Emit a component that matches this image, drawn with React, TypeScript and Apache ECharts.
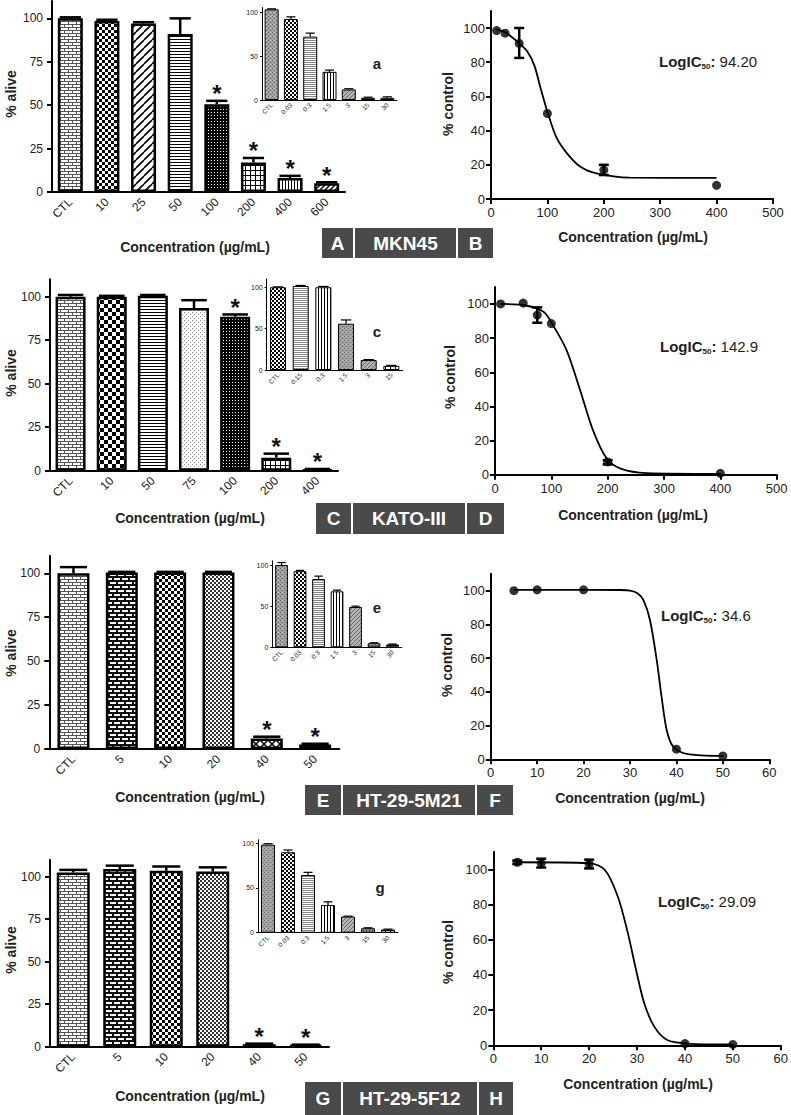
import React, { useEffect, useRef } from "react";
import * as echarts from "echarts";

// ================= DATA =================
// Panel A – MKN45 bar chart
const aCats = ["CTL", "10", "25", "50", "100", "200", "400", "600"];
const aVals = [100, 98.5, 97, 91, 50.5, 17, 8, 5];
const aErr = [100.6, 99.2, 97.8, 100, 52.5, 19.6, 9.3, 5.6];
const aSig = [0, 0, 0, 0, 1, 1, 1, 1];
const aPat = ["brick", "checker", "diagWide", "hlines", "denseDark", "grid", "vlines", "diag"];
// inset a
const aInCats = ["CTL", "0.03", "0.3", "1.5", "3", "15", "30"];
const aInVals = [103, 92, 72, 32, 12, 2.5, 2.5];
const aInErr = [103.6, 94.5, 76, 34, 12.8, 3.2, 3.6];
const aInPat = ["grayCross", "checkerSmall", "grayH", "vlines", "grayDiag", "grayGrid", "grid"];
// Panel B – MKN45 dose response
const bX = [10, 25, 50, 100, 200, 400];
const bY = [98.5, 97, 91, 50, 17, 8];
const bLo = [98.5, 97, 82.5, 50, 14, 8];
const bHi = [98.5, 97, 100, 50, 20, 8];
const bCurveX = [10, 25, 50, 65, 77, 87, 101, 116, 134, 158, 187, 246, 400];
const bCurveY = [99, 97.5, 91, 86, 78, 66, 50, 36, 27, 19, 15, 12.5, 12.3];

// Panel C – KATO-III bar chart
const cCats = ["CTL", "10", "50", "75", "100", "200", "400"];
const cVals = [100, 100, 100.5, 93.5, 88.5, 7.5, 0.5];
const cErr = [101, 100.5, 101, 98, 89.8, 9.8, 1];
const cSig = [0, 0, 0, 0, 1, 1, 1];
const cPat = ["brick", "checkerBig", "hlines", "dots", "denseDark", "grid", "grid"];
// inset c
const cInCats = ["CTL", "0.15", "0.3", "1.5", "3", "15"];
const cInVals = [100, 101.5, 100, 56, 12, 5];
const cInErr = [100.5, 102.2, 101, 60.5, 12.6, 5.6];
const cInPat = ["checkerSmall", "grayH", "vlines", "grayCross", "grayDiag", "grid"];
// Panel D – KATO-III dose response
const dX = [10, 50, 75, 100, 200, 400];
const dY = [100, 100.5, 93.5, 88.5, 7.5, 0.8];
const dLo = [100, 100.5, 89, 88.5, 6, 0.8];
const dHi = [100, 100.5, 98, 88.5, 8.5, 0.8];
const dCurveX = [10, 50, 86, 101, 127, 151, 174, 198, 222, 269, 400];
const dCurveY = [100, 99.4, 95.5, 88.7, 73, 49.6, 26, 9.6, 3.7, 0.9, 0.5];

// Panel E – HT-29-5M21 bar chart
const eCats = ["CTL", "5", "10", "20", "40", "50"];
const eVals = [100, 100.5, 100.5, 100.5, 6, 2.5];
const eErr = [103.5, 100.8, 100.8, 100.8, 7, 3];
const eSig = [0, 0, 0, 0, 1, 1];
const ePat = ["brick", "brickDark", "checker", "checkerFine", "cross", "hlines"];
// inset e
const eInCats = ["CTL", "0.03", "0.3", "1.5", "3", "15", "30"];
const eInVals = [100, 92.5, 83, 68, 49, 5, 3.5];
const eInErr = [103, 93.5, 86.5, 69.5, 50, 5.5, 4];
const eInPat = ["grayCross", "checkerSmall", "grayH", "vlines", "grayDiag", "grayGrid", "grid"];
// Panel F – HT-29-5M21 dose response
const fX = [5, 10, 20, 40, 50];
const fY = [100, 100.5, 100.5, 6, 2];
const fLo = [100, 100.5, 100.5, 6, 2];
const fHi = [100, 100.5, 100.5, 6, 2];
const fCurveX = [5, 20, 28, 30, 31.6, 32.9, 34.3, 35.75, 36.8, 37.9, 39.3, 42.2, 50];
const fCurveY = [100.5, 100.5, 100.4, 100, 98.5, 94.4, 82.6, 58.9, 37, 17.4, 7.5, 3.2, 2];

// Panel G – HT-29-5F12 bar chart
const gCats = ["CTL", "5", "10", "20", "40", "50"];
const gVals = [102.5, 104.5, 103.5, 103, 1.5, 1];
const gErr = [104, 106.5, 106, 105.5, 1.8, 1.2];
const gSig = [0, 0, 0, 0, 1, 1];
const gPat = ["brick", "brickDark", "checker", "checkerFine", "denseDark", "denseDark"];
// inset g
const gInCats = ["CTL", "0.03", "0.3", "1.5", "3", "15", "30"];
const gInVals = [98.5, 90, 64.5, 31, 18, 5, 3.5];
const gInErr = [99.5, 92.5, 67.5, 34.5, 18.5, 5.5, 4];
const gInPat = ["grayCross", "checkerSmall", "grayH", "vlines", "grayDiag", "grayGrid", "grid"];
// Panel H – HT-29-5F12 dose response
const hX = [5, 10, 20, 40, 50];
const hY = [104, 103.5, 103, 1, 0.5];
const hLo = [103, 101, 100.5, 1, 0.5];
const hHi = [105, 106, 105.5, 1, 0.5];
const hCurveX = [5, 20, 23.3, 26, 28.1, 29.8, 31.5, 33.6, 36.3, 40.5, 50];
const hCurveY = [104, 103.5, 99.6, 84.4, 63.6, 42.8, 23.9, 10.6, 3, 1, 0.5];

const barTicks = [0, 25, 50, 75, 100];
const insetTicks = [0, 50, 100];
const curveTicks = [0, 20, 40, 60, 80, 100];

// ================= LAYOUT =================
const FONT = '"Liberation Sans", Arial, Helvetica, sans-serif';
const TXT = "#222";

const LA = { left: 52, top: 1, width: 293, height: 191, max: 110, barW: 25 };
const LAi = { left: 262, top: 7.6, width: 135, height: 92.4, max: 105, barW: 14 };
const LB = { left: 491, top: 10.9, width: 282, height: 188.1, xmax: 500, xint: 100 };
const LC = { left: 50, top: 279.3, width: 288, height: 191.4, max: 110, barW: 30 };
const LCi = { left: 266.7, top: 279, width: 136, height: 91, max: 110, barW: 16 };
const LD = { left: 495, top: 286.9, width: 281.7, height: 187.8, xmax: 500, xint: 100 };
const LE = { left: 49.3, top: 555.7, width: 290, height: 193.3, max: 110, barW: 32 };
const LEi = { left: 272.3, top: 560.9, width: 129.5, height: 86.4, max: 105, barW: 12.7 };
const LF = { left: 490.7, top: 573.8, width: 278.6, height: 185.5, xmax: 60, xint: 10 };
const LG = { left: 50, top: 859.7, width: 279, height: 187, max: 110, barW: 33 };
const LGi = { left: 258, top: 839.7, width: 140, height: 93, max: 104, barW: 14 };
const LH = { left: 493.3, top: 851.7, width: 291.7, height: 193.6, xmax: 60, xint: 10 };

function buildPatterns() {
  const mk = (w, h, bg, draw) => {
    const c = document.createElement("canvas");
    c.width = w;
    c.height = h;
    const g = c.getContext("2d");
    g.fillStyle = bg;
    g.fillRect(0, 0, w, h);
    draw(g);
    return { image: c, repeat: "repeat", imageWidth: w, imageHeight: h };
  };
  const diag = (g, s, color, lw, dir) => {
    g.strokeStyle = color;
    g.lineWidth = lw;
    for (const o of [-s, 0, s]) {
      g.beginPath();
      if (dir > 0) {
        g.moveTo(o, s);
        g.lineTo(o + s, 0);
      } else {
        g.moveTo(o, 0);
        g.lineTo(o + s, s);
      }
      g.stroke();
    }
  };
  return {
    brick: mk(8, 6, "#fff", (g) => {
      g.fillStyle = "#555";
      g.fillRect(0, 0, 8, 1);
      g.fillRect(0, 3, 8, 1);
      g.fillRect(0, 0, 1, 3);
      g.fillRect(4, 3, 1, 3);
    }),
    brickDark: mk(8, 8, "#fff", (g) => {
      g.fillStyle = "#111";
      g.fillRect(0, 0, 8, 2);
      g.fillRect(0, 4, 8, 2);
      g.fillRect(0, 0, 2, 4);
      g.fillRect(4, 4, 2, 4);
    }),
    checker: mk(6, 6, "#fff", (g) => {
      g.fillStyle = "#000";
      g.fillRect(0, 0, 3, 3);
      g.fillRect(3, 3, 3, 3);
    }),
    checkerBig: mk(8, 8, "#fff", (g) => {
      g.fillStyle = "#000";
      g.fillRect(0, 0, 4, 4);
      g.fillRect(4, 4, 4, 4);
    }),
    checkerFine: mk(4, 4, "#fff", (g) => {
      g.fillStyle = "#333";
      g.fillRect(0, 0, 2, 2);
      g.fillRect(2, 2, 2, 2);
    }),
    checkerSmall: mk(4, 4, "#fff", (g) => {
      g.fillStyle = "#000";
      g.fillRect(0, 0, 2, 2);
      g.fillRect(2, 2, 2, 2);
    }),
    diagWide: mk(8, 8, "#fff", (g) => diag(g, 8, "#000", 1.6, 1)),
    diag: mk(5, 5, "#fff", (g) => diag(g, 5, "#000", 1.3, 1)),
    hlines: mk(2, 3, "#fff", (g) => {
      g.fillStyle = "#000";
      g.fillRect(0, 0, 2, 1);
    }),
    vlines: mk(3, 2, "#fff", (g) => {
      g.fillStyle = "#000";
      g.fillRect(0, 0, 1, 2);
    }),
    grid: mk(5, 5, "#fff", (g) => {
      g.fillStyle = "#000";
      g.fillRect(0, 0, 5, 1);
      g.fillRect(0, 0, 1, 5);
    }),
    denseDark: mk(3, 3, "#000", (g) => {
      g.fillStyle = "#fff";
      g.fillRect(1, 1, 1, 1);
    }),
    dots: mk(4, 4, "#fff", (g) => {
      g.fillStyle = "#888";
      g.fillRect(0, 0, 1, 1);
      g.fillRect(2, 2, 1, 1);
    }),
    cross: mk(8, 8, "#fff", (g) => {
      diag(g, 8, "#000", 1.5, 1);
      diag(g, 8, "#000", 1.5, -1);
    }),
    grayCross: mk(4, 4, "#a0a0a0", (g) => {
      g.fillStyle = "#666";
      g.fillRect(0, 0, 1, 1);
      g.fillRect(2, 2, 1, 1);
      g.fillStyle = "#ccc";
      g.fillRect(2, 0, 1, 1);
    }),
    grayDiag: mk(4, 4, "#b4b4b4", (g) => diag(g, 4, "#6a6a6a", 1, 1)),
    grayH: mk(2, 2, "#fff", (g) => {
      g.fillStyle = "#888";
      g.fillRect(0, 0, 2, 1);
    }),
    grayGrid: mk(3, 3, "#bbb", (g) => {
      g.fillStyle = "#666";
      g.fillRect(0, 0, 3, 1);
      g.fillRect(0, 0, 1, 3);
    }),
  };
}

function errItem(capW, lw, both) {
  return function (params, api) {
    const x = api.value(0);
    const lo = api.value(1);
    const hi = api.value(2);
    const p1 = api.coord([x, lo]);
    const p2 = api.coord([x, hi]);
    const st = { stroke: "#000", lineWidth: lw, fill: "none" };
    const ch = [
      { type: "line", shape: { x1: p1[0], y1: p1[1], x2: p2[0], y2: p2[1] }, style: st },
      { type: "line", shape: { x1: p2[0] - capW / 2, y1: p2[1], x2: p2[0] + capW / 2, y2: p2[1] }, style: st },
    ];
    if (both) {
      ch.push({ type: "line", shape: { x1: p1[0] - capW / 2, y1: p1[1], x2: p1[0] + capW / 2, y2: p1[1] }, style: st });
    }
    return { type: "group", children: ch };
  };
}

function starItem(params, api) {
  const p = api.coord([api.value(0), api.value(1)]);
  return {
    type: "text",
    x: p[0],
    y: p[1] + 5,
    style: {
      text: "*",
      fontSize: 24,
      fontWeight: "bold",
      fontFamily: FONT,
      fill: "#111",
      align: "center",
      verticalAlign: "bottom",
    },
  };
}

function buildOption() {
  const PAT = buildPatterns();
  const grids = [];
  const xAxes = [];
  const yAxes = [];
  const series = [];

  const addBar = (P, cats, vals, errs, sig, pats, inset) => {
    const i = grids.length;
    const lw = inset ? 1 : 2;
    grids.push({ left: P.left, top: P.top, width: P.width, height: P.height });
    xAxes.push({
      gridIndex: i,
      type: "category",
      data: cats,
      axisLine: { lineStyle: { color: "#000", width: lw } },
      axisTick: { alignWithLabel: true, length: inset ? 2 : 5, lineStyle: { color: "#000", width: lw } },
      axisLabel: {
        rotate: 45,
        fontSize: inset ? 6.5 : 12,
        color: TXT,
        fontFamily: FONT,
        margin: inset ? 4 : 8,
        interval: 0,
      },
    });
    yAxes.push({
      gridIndex: i,
      type: "value",
      min: 0,
      max: P.max,
      splitLine: { show: false },
      axisLine: { show: true, lineStyle: { color: "#000", width: lw } },
      axisTick: {
        show: true,
        length: inset ? 2 : 5,
        customValues: inset ? insetTicks : barTicks,
        lineStyle: { color: "#000", width: lw },
      },
      axisLabel: {
        customValues: inset ? insetTicks : barTicks,
        fontSize: inset ? 7 : 12,
        color: TXT,
        fontFamily: FONT,
        margin: inset ? 4 : 9,
      },
    });
    series.push({
      type: "bar",
      xAxisIndex: i,
      yAxisIndex: i,
      barWidth: P.barW,
      silent: true,
      itemStyle: { borderColor: "#000", borderWidth: inset ? 1 : 2.5 },
      data: vals.map((v, k) => ({ value: v, itemStyle: { color: PAT[pats[k]] } })),
      z: 2,
    });
    series.push({
      type: "custom",
      xAxisIndex: i,
      yAxisIndex: i,
      silent: true,
      encode: { x: 0, y: [1, 2] },
      renderItem: errItem(P.barW * (inset ? 0.65 : 0.85), inset ? 1.2 : 2.5, false),
      data: vals.map((v, k) => [k, v, errs[k]]),
      z: 3,
    });
    if (!inset) {
      const stars = [];
      sig.forEach((s, k) => {
        if (s) stars.push([k, errs[k]]);
      });
      series.push({
        type: "custom",
        xAxisIndex: i,
        yAxisIndex: i,
        silent: true,
        encode: { x: 0, y: 1 },
        renderItem: starItem,
        data: stars,
        z: 4,
      });
    }
  };

  const addCurve = (P, xs, ys, lo, hi, cx, cy) => {
    const i = grids.length;
    grids.push({ left: P.left, top: P.top, width: P.width, height: P.height });
    xAxes.push({
      gridIndex: i,
      type: "value",
      min: 0,
      max: P.xmax,
      interval: P.xint,
      splitLine: { show: false },
      axisLine: { lineStyle: { color: "#000", width: 2 } },
      axisTick: { show: true, length: 5, lineStyle: { color: "#000", width: 2 } },
      axisLabel: { fontSize: 13, color: TXT, fontFamily: FONT, margin: 7 },
    });
    yAxes.push({
      gridIndex: i,
      type: "value",
      min: 0,
      max: 110,
      splitLine: { show: false },
      axisLine: { show: true, lineStyle: { color: "#000", width: 2 } },
      axisTick: { show: true, length: 5, customValues: curveTicks, lineStyle: { color: "#000", width: 2 } },
      axisLabel: { customValues: curveTicks, fontSize: 13, color: TXT, fontFamily: FONT, margin: 6 },
    });
    series.push({
      type: "line",
      xAxisIndex: i,
      yAxisIndex: i,
      silent: true,
      smooth: 0.3,
      symbol: "none",
      lineStyle: { color: "#000", width: 1.8 },
      data: cx.map((x, k) => [x, cy[k]]),
      z: 2,
    });
    const errs = [];
    xs.forEach((x, k) => {
      if (hi[k] - lo[k] > 0.1) errs.push([x, lo[k], hi[k]]);
    });
    series.push({
      type: "custom",
      xAxisIndex: i,
      yAxisIndex: i,
      silent: true,
      encode: { x: 0, y: [1, 2] },
      renderItem: errItem(10, 2.5, true),
      data: errs,
      z: 3,
    });
    series.push({
      type: "scatter",
      xAxisIndex: i,
      yAxisIndex: i,
      silent: true,
      symbol: "circle",
      symbolSize: 9,
      itemStyle: { color: "#000" },
      data: xs.map((x, k) => [x, ys[k]]),
      z: 4,
    });
  };

  addBar(LA, aCats, aVals, aErr, aSig, aPat, false);
  addBar(LAi, aInCats, aInVals, aInErr, null, aInPat, true);
  addCurve(LB, bX, bY, bLo, bHi, bCurveX, bCurveY);
  addBar(LC, cCats, cVals, cErr, cSig, cPat, false);
  addBar(LCi, cInCats, cInVals, cInErr, null, cInPat, true);
  addCurve(LD, dX, dY, dLo, dHi, dCurveX, dCurveY);
  addBar(LE, eCats, eVals, eErr, eSig, ePat, false);
  addBar(LEi, eInCats, eInVals, eInErr, null, eInPat, true);
  addCurve(LF, fX, fY, fLo, fHi, fCurveX, fCurveY);
  addBar(LG, gCats, gVals, gErr, gSig, gPat, false);
  addBar(LGi, gInCats, gInVals, gInErr, null, gInPat, true);
  addCurve(LH, hX, hY, hLo, hHi, hCurveX, hCurveY);

  // ----- graphic texts -----
  const g = [];
  const rotText = (text, x, y) =>
    g.push({
      type: "text",
      x,
      y,
      rotation: Math.PI / 2,
      style: { text, fontSize: 14, fontWeight: "bold", fontFamily: FONT, fill: TXT, align: "center", verticalAlign: "middle" },
    });
  const hText = (text, x, y) =>
    g.push({
      type: "text",
      x,
      y,
      style: { text, fontSize: 14, fontWeight: "bold", fontFamily: FONT, fill: TXT, align: "center", verticalAlign: "middle" },
    });
  const letter = (text, x, y) =>
    g.push({
      type: "text",
      x,
      y,
      style: { text, fontSize: 15, fontWeight: "bold", fontFamily: FONT, fill: TXT, align: "center", verticalAlign: "middle" },
    });
  const ic = (val, x, y) =>
    g.push({
      type: "text",
      x,
      y,
      style: {
        text: "{b|LogIC}{s|50}{b|:}{n| " + val + "}",
        fontFamily: FONT,
        fill: TXT,
        align: "left",
        verticalAlign: "middle",
        rich: {
          b: { fontSize: 15, fontWeight: "bold", fontFamily: FONT, fill: TXT, verticalAlign: "top", lineHeight: 17 },
          s: { fontSize: 8, fontWeight: "bold", fontFamily: FONT, fill: TXT, verticalAlign: "top", lineHeight: 9, padding: [9, 0, 0, 0] },
          n: { fontSize: 15, fontFamily: FONT, fill: TXT, verticalAlign: "top", lineHeight: 17 },
        },
      },
    });
  const box = (x0, x1, y0, h, text) => {
    g.push({ type: "rect", shape: { x: x0, y: y0, width: x1 - x0, height: h }, style: { fill: "#4a4a4a" } });
    g.push({
      type: "text",
      x: (x0 + x1) / 2,
      y: y0 + h / 2,
      style: { text, fontSize: 19, fontWeight: "bold", fontFamily: FONT, fill: "#fff", align: "center", verticalAlign: "middle" },
    });
  };

  rotText("% alive", 11, 94);
  rotText("% alive", 11, 373);
  rotText("% alive", 11, 653);
  rotText("% alive", 11, 950);
  rotText("% control", 448, 104);
  rotText("% control", 450, 377);
  rotText("% control", 447, 665);
  rotText("% control", 448, 952);
  hText("Concentration (µg/mL)", 195, 247);
  hText("Concentration (µg/mL)", 190, 518);
  hText("Concentration (µg/mL)", 190, 797);
  hText("Concentration (µg/mL)", 190, 1096);
  hText("Concentration (µg/mL)", 633, 237);
  hText("Concentration (µg/mL)", 633, 515);
  hText("Concentration (µg/mL)", 630, 798);
  hText("Concentration (µg/mL)", 638, 1084);
  letter("a", 377, 63);
  letter("c", 377, 331);
  letter("e", 377, 607);
  letter("g", 380, 887);
  ic("94.20", 659, 62);
  ic("142.9", 660, 347);
  ic("34.6", 661, 616);
  ic("29.09", 658, 902);

  box(322, 353, 228, 30, "A");
  box(355, 456, 228, 30, "MKN45");
  box(458, 493, 228, 30, "B");
  box(316, 351, 503, 31, "C");
  box(353, 465, 503, 31, "KATO-III");
  box(467, 504, 503, 31, "D");
  box(305, 341, 785, 30, "E");
  box(343, 475, 785, 30, "HT-29-5M21");
  box(477, 513, 785, 30, "F");
  box(305, 341, 1082, 33, "G");
  box(343, 477, 1082, 33, "HT-29-5F12");
  box(479, 513, 1082, 33, "H");

  return {
    animation: false,
    backgroundColor: "#fff",
    textStyle: { fontFamily: FONT },
    grid: grids,
    xAxis: xAxes,
    yAxis: yAxes,
    series,
    graphic: g,
  };
}

export default function App() {
  const ref = useRef(null);
  useEffect(() => {
    document.body.style.margin = "0";
    const chart = echarts.init(ref.current, null, { renderer: "svg" });
    chart.setOption(buildOption());
    return () => chart.dispose();
  }, []);
  return <div ref={ref} style={{ width: 791, height: 1115 }} />;
}
